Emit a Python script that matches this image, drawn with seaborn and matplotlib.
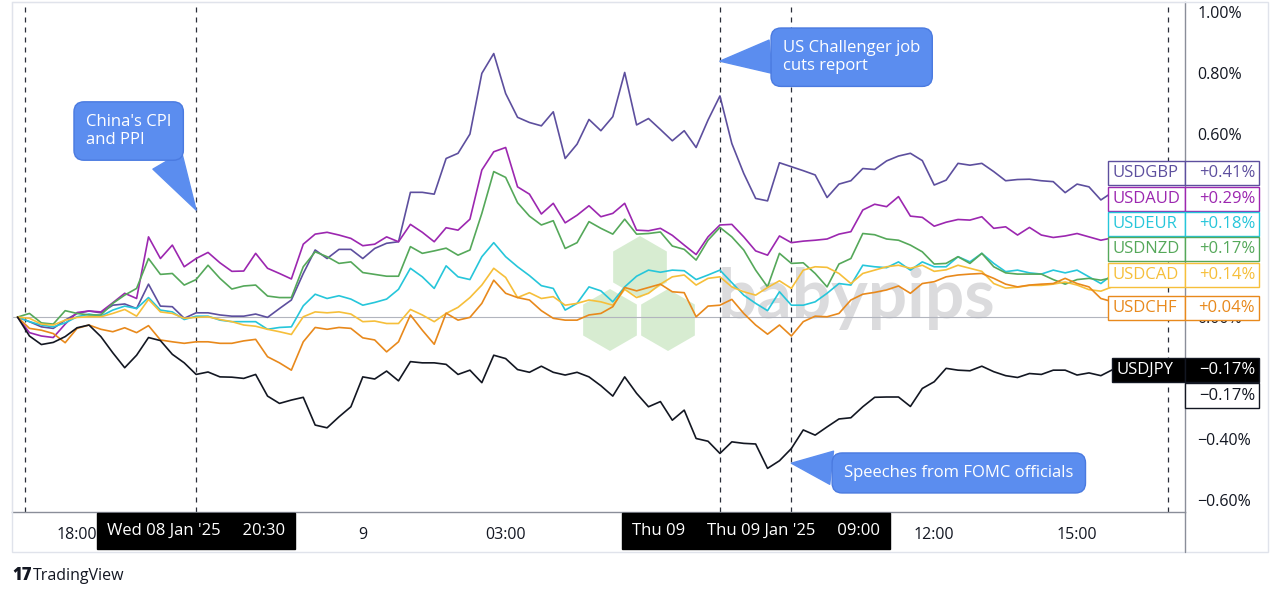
import numpy as np
import pandas as pd
import seaborn as sns
import matplotlib.pyplot as plt
import matplotlib.dates as mdates
from matplotlib.patches import Rectangle, RegularPolygon
from matplotlib.lines import Line2D

# 15-minute closes, % change vs. start
times = pd.date_range("2025-01-08 16:45", periods=93, freq="15min")

usdgbp = [0.0, -0.015, -0.032, -0.037, -0.010, 0.012, 0.020, 0.014, 0.039, 0.043, 0.028, 0.108, 0.036, 0.034, -0.004, 0.014, 0.014, 0.007, 0.003,
          0.003, 0.010, -0.001, 0.028, 0.056, 0.143, 0.220, 0.192, 0.222, 0.222, 0.192, 0.225, 0.242, 0.247, 0.409, 0.409, 0.403, 0.520,
          0.537, 0.600, 0.799, 0.864, 0.733, 0.655, 0.638, 0.627, 0.673, 0.520, 0.567, 0.648, 0.611, 0.657, 0.802, 0.630, 0.651, 0.615, 0.578,
          0.611, 0.556, 0.646, 0.725, 0.569, 0.471, 0.389, 0.381, 0.506, 0.493, 0.480, 0.466, 0.392, 0.436, 0.447, 0.487, 0.484,
          0.512, 0.528, 0.537, 0.513, 0.433, 0.449, 0.504, 0.498, 0.504, 0.477, 0.447, 0.451, 0.452, 0.447, 0.444, 0.408, 0.436, 0.427, 0.384, 0.410]
usdaud = [0.0, -0.051, -0.062, -0.067, -0.023, 0.015, 0.020, 0.017, 0.047, 0.078, 0.061, 0.263, 0.192, 0.236, 0.165, 0.192, 0.212, 0.178, 0.150,
          0.151, 0.209, 0.160, 0.143, 0.125, 0.239, 0.272, 0.278, 0.269, 0.258, 0.234, 0.239, 0.263, 0.247, 0.304, 0.278, 0.247, 0.293,
          0.285, 0.321, 0.482, 0.542, 0.556, 0.427, 0.403, 0.338, 0.373, 0.309, 0.334, 0.365, 0.329, 0.340, 0.373, 0.285, 0.283, 0.291, 0.268,
          0.236, 0.205, 0.263, 0.302, 0.304, 0.263, 0.217, 0.203, 0.266, 0.244, 0.249, 0.252, 0.256, 0.272, 0.280, 0.351, 0.370,
          0.362, 0.395, 0.331, 0.327, 0.298, 0.311, 0.320, 0.318, 0.329, 0.291, 0.296, 0.269, 0.294, 0.269, 0.261, 0.266, 0.274, 0.263, 0.252, 0.260]
usdeur = [0.0, -0.015, -0.026, -0.032, -0.019, 0.001, 0.010, 0.003, 0.023, 0.036, 0.028, 0.064, 0.023, 0.017, -0.008, 0.003, 0.003, -0.010, -0.015,
          -0.015, -0.015, -0.040, -0.034, -0.032, 0.037, 0.075, 0.061, 0.070, 0.059, 0.039, 0.048, 0.059, 0.091, 0.160, 0.132, 0.094, 0.168,
          0.132, 0.123, 0.198, 0.244, 0.198, 0.165, 0.136, 0.103, 0.094, 0.023, 0.045, 0.099, 0.086, 0.050, 0.099, 0.134, 0.154, 0.147, 0.154,
          0.152, 0.123, 0.138, 0.154, 0.113, 0.072, 0.045, 0.021, 0.083, 0.039, 0.039, 0.050, 0.078, 0.110, 0.105, 0.170, 0.165,
          0.162, 0.181, 0.154, 0.181, 0.165, 0.165, 0.198, 0.181, 0.209, 0.176, 0.149, 0.154, 0.145, 0.141, 0.154, 0.145, 0.154, 0.132, 0.110, 0.140]
usdnzd = [0.0, 0.012, -0.019, -0.023, 0.021, 0.012, 0.007, 0.007, 0.045, 0.072, 0.094, 0.192, 0.140, 0.143, 0.105, 0.123, 0.170, 0.127, 0.092,
          0.102, 0.105, 0.069, 0.064, 0.064, 0.165, 0.214, 0.198, 0.176, 0.181, 0.146, 0.140, 0.134, 0.134, 0.231, 0.209, 0.217, 0.226,
          0.203, 0.220, 0.340, 0.477, 0.458, 0.375, 0.331, 0.302, 0.316, 0.225, 0.244, 0.313, 0.291, 0.272, 0.321, 0.272, 0.274, 0.279, 0.233,
          0.222, 0.187, 0.252, 0.294, 0.263, 0.220, 0.154, 0.099, 0.209, 0.176, 0.178, 0.143, 0.099, 0.174, 0.192, 0.274, 0.270,
          0.256, 0.252, 0.236, 0.214, 0.174, 0.176, 0.198, 0.176, 0.209, 0.165, 0.145, 0.141, 0.141, 0.141, 0.123, 0.108, 0.123, 0.127, 0.121, 0.130]
usdcad = [0.0, -0.004, -0.023, -0.026, -0.010, -0.001, 0.001, 0.001, 0.012, 0.025, 0.003, 0.058, 0.017, 0.012, -0.004, -0.001, 0.001, -0.008, -0.015,
          -0.026, -0.030, -0.040, -0.048, -0.057, 0.001, 0.017, 0.014, 0.017, 0.010, -0.015, -0.013, -0.021, -0.021, 0.025, 0.007, -0.015, 0.012,
          0.032, 0.064, 0.105, 0.160, 0.130, 0.064, 0.080, 0.061, 0.067, 0.039, 0.045, 0.056, 0.050, 0.039, 0.091, 0.064, 0.078, 0.108, 0.132,
          0.138, 0.105, 0.127, 0.132, 0.099, 0.083, 0.072, 0.097, 0.119, 0.094, 0.154, 0.165, 0.163, 0.143, 0.110, 0.143, 0.154,
          0.165, 0.170, 0.160, 0.170, 0.150, 0.155, 0.170, 0.160, 0.150, 0.110, 0.095, 0.098, 0.104, 0.104, 0.108, 0.115, 0.105, 0.090, 0.085, 0.100]
usdchf = [0.0, -0.037, -0.043, -0.054, -0.084, -0.037, -0.026, -0.040, -0.048, -0.035, -0.051, -0.028, -0.075, -0.081, -0.086, -0.081, -0.081, -0.086, -0.086,
          -0.078, -0.073, -0.130, -0.150, -0.174, -0.081, -0.034, -0.040, -0.034, -0.037, -0.068, -0.075, -0.114, -0.081, 0.007, -0.043, -0.089, 0.013,
          -0.010, -0.001, 0.045, 0.121, 0.078, 0.064, 0.056, 0.021, -0.004, -0.010, -0.010, 0.007, 0.012, 0.034, 0.097, 0.086, 0.097, 0.108, 0.083,
          0.080, 0.001, 0.036, 0.039, 0.058, 0.012, -0.026, -0.056, -0.026, -0.062, -0.015, 0.003, 0.001, 0.012, 0.056, 0.075, 0.081,
          0.089, 0.102, 0.078, 0.110, 0.116, 0.132, 0.138, 0.141, 0.143, 0.127, 0.108, 0.099, 0.105, 0.108, 0.110, 0.127, 0.110, 0.099, 0.061, 0.050]
usdjpy = [0.0, -0.062, -0.090, -0.083, -0.064, -0.035, -0.026, -0.064, -0.117, -0.166, -0.125, -0.067, -0.077, -0.122, -0.150, -0.188, -0.180, -0.196, -0.197,
          -0.201, -0.188, -0.259, -0.283, -0.272, -0.263, -0.354, -0.363, -0.327, -0.294, -0.196, -0.203, -0.177, -0.209, -0.146, -0.150, -0.150, -0.155,
          -0.188, -0.174, -0.215, -0.125, -0.136, -0.172, -0.181, -0.161, -0.181, -0.190, -0.181, -0.196, -0.225, -0.259, -0.196, -0.250, -0.294, -0.277, -0.338,
          -0.305, -0.398, -0.407, -0.447, -0.409, -0.414, -0.416, -0.496, -0.471, -0.431, -0.370, -0.387, -0.360, -0.334, -0.330, -0.294, -0.263,
          -0.262, -0.262, -0.293, -0.234, -0.212, -0.168, -0.174, -0.176, -0.161, -0.179, -0.192, -0.198, -0.185, -0.188, -0.174, -0.174, -0.190, -0.183, -0.192, -0.172]

pairs = ["USDGBP", "USDAUD", "USDEUR", "USDNZD", "USDCAD", "USDCHF", "USDJPY"]
last_labels = ["+0.41%", "+0.29%", "+0.18%", "+0.17%", "+0.14%", "+0.04%", "\u22120.17%"]
colors = {"USDGBP": "#5d4f9e", "USDAUD": "#9c27b0", "USDEUR": "#26c6da", "USDNZD": "#55a85a",
          "USDCAD": "#f6bf3a", "USDCHF": "#e8891c", "USDJPY": "#131722"}

events = ["2025-01-08 16:55", "2025-01-08 20:30", "2025-01-09 07:30", "2025-01-09 09:00", "2025-01-09 16:55"]
xtick_times = ["2025-01-08 18:00", "2025-01-09 00:00", "2025-01-09 03:00", "2025-01-09 12:00", "2025-01-09 15:00"]
xtick_labels = ["18:00", "9", "03:00", "12:00", "15:00"]
# 0.40 / 0.20 / -0.20 sit under the value tags on the price scale
ytick_vals = [1.0, 0.8, 0.6, 0.0, -0.4, -0.6]

df = pd.DataFrame({"time": times, "USDGBP": usdgbp, "USDAUD": usdaud, "USDEUR": usdeur,
                   "USDNZD": usdnzd, "USDCAD": usdcad, "USDCHF": usdchf, "USDJPY": usdjpy})
long_df = df.melt(id_vars="time", var_name="pair", value_name="pct")

sns.set_theme(style="white")
plt.rcParams["font.family"] = ["Open Sans", "DejaVu Sans"]

W, H = 1280, 598
fig = plt.figure(figsize=(W / 100, H / 100), dpi=100)


def fx(px):
    return px / W


def fy(py):
    return 1 - py / H


ax = fig.add_axes([fx(12), fy(512), fx(1185) - fx(12), fy(2) - fy(512)])

# watermark behind the lines
for cx, cy in [(640, 267), (610, 320), (668, 320)]:
    ax.add_patch(RegularPolygon((cx / 100, (H - cy) / 100), numVertices=6, radius=0.31,
                                transform=fig.dpi_scale_trans, fc="#cde8c6", ec="none",
                                alpha=0.8, zorder=0.5, clip_on=False))
ax.text(fx(718), fy(318), "babypips", transform=fig.transFigure, fontsize=50,
        fontweight="bold", family=["Lato", "DejaVu Sans"], color="#d5d5d7", alpha=0.85,
        va="baseline", ha="left", zorder=0.6)

ax.axhline(0, color="#b2b5be", lw=0.8, zorder=1)
for ev in events:
    ax.axvline(pd.Timestamp(ev), color="#2a2e39", lw=0.9, ls=(0, (4, 4)), zorder=2)

sns.lineplot(data=long_df, x="time", y="pct", hue="pair", hue_order=pairs, palette=colors,
             estimator=None, lw=1.2, legend=False, ax=ax, zorder=3)

ax.set_xlim(pd.Timestamp("2025-01-08 16:38"), pd.Timestamp("2025-01-09 17:16"))
ax.set_ylim(-0.639, 1.033)
ax.set_xlabel("")
ax.set_ylabel("")

ax.set_xticks([mdates.date2num(pd.Timestamp(t)) for t in xtick_times])
ax.set_xticklabels(xtick_labels)
ax.yaxis.tick_right()
ax.set_yticks(ytick_vals)
ax.set_yticklabels([f"{v:.2f}%".replace("-", "\u2212") for v in ytick_vals])
ax.tick_params(axis="y", length=0, pad=9, labelsize=11.5, labelcolor="#131722")
ax.tick_params(axis="x", length=0, pad=11, labelsize=11.5, labelcolor="#131722")
for s in ["left", "top"]:
    ax.spines[s].set_color("#e0e3eb")
    ax.spines[s].set_linewidth(0.8)
ax.spines["right"].set_color("#8a8e99")
ax.spines["bottom"].set_color("#8a8e99")
ax.spines["right"].set_linewidth(1)
ax.spines["bottom"].set_linewidth(1)

# callouts
blue, blue_edge = "#5b8def", "#4a7ae0"
bubble = dict(boxstyle="round,pad=0.72,rounding_size=0.6", fc=blue, ec=blue_edge, lw=1)
wedge = dict(arrowstyle="wedge,tail_width=2.0,shrink_factor=0.5", fc=blue, ec=blue, lw=1,
             shrinkA=0, shrinkB=0)
ax.annotate("China's CPI\nand PPI", xy=(pd.Timestamp("2025-01-08 20:30"), 0.351),
            xytext=(pd.Timestamp("2025-01-08 19:05"), 0.61), color="white", fontsize=12,
            ha="center", va="center", multialignment="left", bbox=bubble, zorder=6,
            arrowprops=dict(wedge, relpos=(0.86, 0.03)))
ax.annotate("US Challenger job\ncuts report", xy=(pd.Timestamp("2025-01-09 07:30"), 0.839),
            xytext=(pd.Timestamp("2025-01-09 10:16"), 0.852), color="white", fontsize=12,
            ha="center", va="center", multialignment="left", bbox=bubble, zorder=6,
            arrowprops=dict(wedge, relpos=(0.01, 0.55)))
ax.annotate("Speeches from FOMC officials", xy=(pd.Timestamp("2025-01-09 09:00"), -0.479),
            xytext=(pd.Timestamp("2025-01-09 12:31"), -0.511), color="white", fontsize=12,
            ha="center", va="center", bbox=bubble, zorder=6,
            arrowprops=dict(wedge, relpos=(0.01, 0.72)))

# crosshair date boxes on the time axis
tbox = dict(boxstyle="square,pad=0.6", fc="black", ec="black")
for t, txt in [("2025-01-08 20:30", "Wed 08 Jan '25     20:30"),
               ("2025-01-09 08:16", "Thu 09     Thu 09 Jan '25     09:00")]:
    ax.annotate(txt, xy=(pd.Timestamp(t), -0.037), xycoords=("data", "axes fraction"),
                ha="center", va="center", color="white", fontsize=12, bbox=tbox,
                annotation_clip=False, zorder=7)

# frame of the chart panel
fig.add_artist(Rectangle((fx(12), fy(552)), fx(1268) - fx(12), fy(2) - fy(552),
                         transform=fig.transFigure, fill=False, ec="#e0e3eb", lw=1))
fig.add_artist(Line2D([fx(1185), fx(1185)], [fy(512), fy(552)], transform=fig.transFigure,
                      color="#8a8e99", lw=1))

# last-value labels on the price scale
label_rows = [173, 199, 224, 249, 275, 308, 370]
for pair, txt, yc in zip(pairs, last_labels, label_rows):
    c = colors[pair]
    dark = pair == "USDJPY"
    face = "black" if dark else "white"
    tcol = "white" if dark else c
    x0 = 1112 if dark else 1108
    fig.add_artist(Rectangle((fx(x0), fy(yc + 12)), fx(1185) - fx(x0), 24 / H,
                             transform=fig.transFigure, fc=face, ec=c, lw=1, zorder=5))
    fig.add_artist(Rectangle((fx(1185), fy(yc + 12)), 74 / W, 24 / H,
                             transform=fig.transFigure, fc=face, ec=c, lw=1, zorder=5))
    fig.text(fx(x0 + 4), fy(yc), pair, color=tcol, va="center", ha="left", fontsize=12, zorder=6)
    fig.text(fx(1255), fy(yc), txt, color=tcol, va="center", ha="right", fontsize=12, zorder=6)
# current price tag of the main series
fig.add_artist(Rectangle((fx(1185), fy(408)), 74 / W, 25 / H, transform=fig.transFigure,
                         fc="white", ec="#131722", lw=1, zorder=5))
fig.text(fx(1255), fy(396), last_labels[-1], color="#131722", va="center", ha="right",
         fontsize=12, zorder=6)

fig.text(fx(12), fy(576), "17", fontsize=12, fontweight="heavy", color="#131722", va="center")
fig.text(fx(33), fy(576), "TradingView", fontsize=11.5, color="#131722", va="center")

fig.savefig("out.png", dpi=100)
